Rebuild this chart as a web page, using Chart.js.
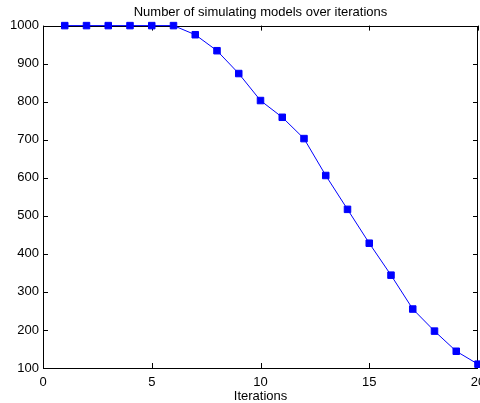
<!DOCTYPE html>
<html>
<head>
<meta charset="utf-8">
<script src="https://cdn.jsdelivr.net/npm/chart.js@4/dist/chart.umd.min.js"></script>
<style>
  html, body { margin: 0; padding: 0; background: #fff; }
  #wrap { width: 480px; height: 403px; }
</style>
</head>
<body>
<div id="wrap"><canvas id="chart" width="480" height="403"></canvas></div>
<script>
// models still simulating after each iteration
const iterations = [1, 2, 3, 4, 5, 6, 7, 8, 9, 10, 11, 12, 13, 14, 15, 16, 17, 18, 19, 20];
const models = [1000, 1000, 1000, 1000, 1000, 1000, 976, 934, 874, 803, 759, 703, 606, 517, 428, 344, 255, 197, 144, 110];

const xTicks = { min: 0, max: 20, step: 5 };
const yTicks = { min: 100, max: 1000, step: 100 };

const FONT = 'Liberation Sans, Arial, Helvetica, sans-serif';
const noPadding = () => ({ left: 0, top: 0, right: 0, bottom: 0 });

// matlab-like frame: box round the plot with ticks pointing inwards on all sides
const frameBox = {
  id: 'frameBox',
  beforeDatasetsDraw(chart) {
    const { ctx, chartArea: a, scales } = chart;
    const len = 5;
    ctx.save();
    ctx.strokeStyle = '#000';
    ctx.lineWidth = 1;
    ctx.beginPath();
    ctx.rect(Math.round(a.left) + 0.5, Math.round(a.top) + 0.5,
             Math.round(a.right - a.left) - 1, Math.round(a.bottom - a.top));
    scales.x.ticks.forEach(t => {
      const px = Math.round(scales.x.getPixelForValue(t.value)) + 0.5;
      ctx.moveTo(px, a.bottom); ctx.lineTo(px, a.bottom - len);
      ctx.moveTo(px, a.top); ctx.lineTo(px, a.top + len);
    });
    scales.y.ticks.forEach(t => {
      const py = Math.round(scales.y.getPixelForValue(t.value)) + 0.5;
      ctx.moveTo(a.left, py); ctx.lineTo(a.left + len, py);
      ctx.moveTo(a.right, py); ctx.lineTo(a.right - len, py);
    });
    ctx.stroke();
    ctx.restore();
  }
};

new Chart(document.getElementById('chart'), {
  type: 'line',
  data: {
    datasets: [{
      data: iterations.map((it, i) => ({ x: it, y: models[i] })),
      borderColor: '#0000ff',
      backgroundColor: '#0000ff',
      borderWidth: 1,
      pointStyle: 'rect',
      pointRadius: 4.6,
      pointBorderWidth: 1,
      tension: 0,
      clip: false,
    }],
  },
  options: {
    responsive: false,
    animation: false,
    layout: { autoPadding: false, padding: { top: 0, right: 2, bottom: 0, left: 0 } },
    plugins: {
      legend: { display: false },
      tooltip: { enabled: false },
      title: {
        display: true,
        fullSize: false,
        text: 'Number of simulating models over iterations',
        color: '#000',
        font: { family: FONT, size: 13, weight: 'normal' },
        padding: { top: 5, bottom: 5 },
      },
    },
    scales: {
      x: {
        type: 'linear',
        min: xTicks.min,
        max: xTicks.max,
        grid: { display: false, drawTicks: false },
        border: { display: false },
        ticks: { stepSize: xTicks.step, color: '#000', padding: 7, maxRotation: 0,
                 font: { family: FONT, size: 13 },
                 callback: v => String(v) },
        title: { display: true, text: 'Iterations', color: '#000',
                 padding: { top: 0, bottom: -1 },
                 font: { family: FONT, size: 13 } },
        afterFit(scale) {
          scale.height = 35;
          scale.paddingLeft = 0;
          scale.paddingRight = 0;
          scale.getPadding = noPadding;
        },
      },
      y: {
        min: yTicks.min,
        max: yTicks.max,
        grid: { display: false, drawTicks: false },
        border: { display: false },
        ticks: { stepSize: yTicks.step, color: '#000', padding: 4,
                 font: { family: FONT, size: 13 },
                 callback: v => String(v) },
        afterFit(scale) {
          scale.width = 43;
          scale.paddingTop = 0;
          scale.paddingBottom = 0;
          scale.getPadding = noPadding;
        },
      },
    },
  },
  plugins: [frameBox],
});
</script>
</body>
</html>
